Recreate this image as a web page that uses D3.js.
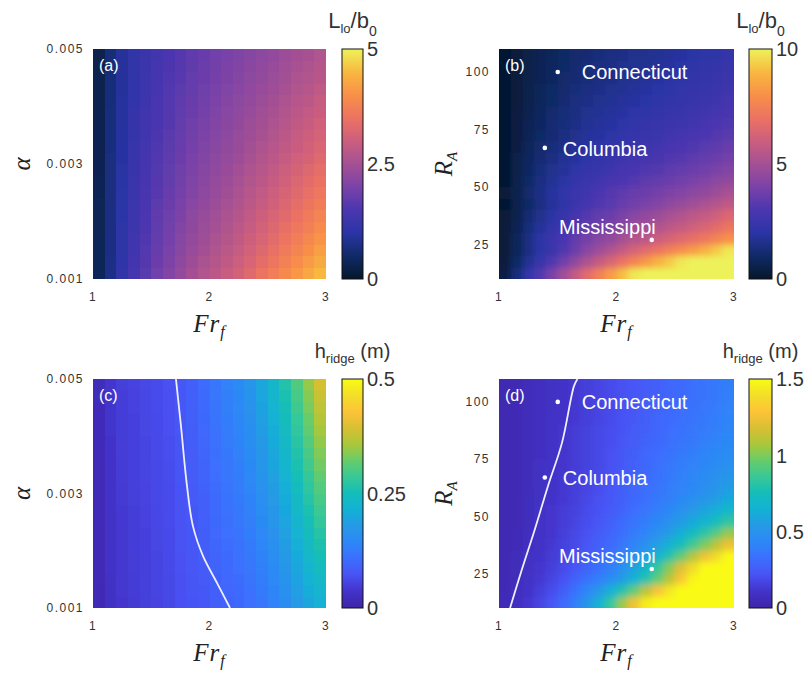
<!DOCTYPE html>
<html><head><meta charset="utf-8">
<script src="https://cdn.jsdelivr.net/npm/d3@7"></script>
<style>body{margin:0;background:#fff}svg{display:block}</style>
</head><body>
<svg id="chart" width="811" height="673"></svg>
<script>
// ---- axes / categories ----
const frValues = [1.05,1.15,1.25,1.35,1.45,1.55,1.65,1.75,1.85,1.95,2.05,2.15,2.25,2.35,2.45,2.55,2.65,2.75,2.85,2.95];
const alphaValues = [0.0049,0.0047,0.0045,0.0043,0.0041,0.0039,0.0037,0.0035,0.0033,0.0031,0.0029,0.0027,0.0025,0.0023,0.0021,0.0019,0.0017,0.0015,0.0013,0.0011];
const raValues = [107.5,102.5,97.5,92.5,87.5,82.5,77.5,72.5,67.5,62.5,57.5,52.5,47.5,42.5,37.5,32.5,27.5,22.5,17.5,12.5];
const frTicks = [1,2,3];
const alphaTicks = [0.001,0.003,0.005];
const alphaTickLabels = ["0.001","0.003","0.005"];
const raTicks = [25,50,75,100];
const ratioTicksA = [0,2.5,5];
const ratioTicksB = [0,5,10];
const ridgeTicksC = [0,0.25,0.5];
const ridgeTicksD = [0,0.5,1,1.5];

// ---- panel (a): L_lo/b_0, rows = alpha (top to bottom), cols = Fr ----
const ratioA = [
[0.30,0.65,0.90,1.10,1.25,1.38,1.50,1.60,1.70,1.80,1.90,1.98,2.06,2.14,2.22,2.30,2.40,2.50,2.55,2.65],
[0.30,0.65,0.91,1.11,1.26,1.40,1.52,1.62,1.72,1.83,1.93,2.01,2.09,2.18,2.26,2.34,2.45,2.55,2.60,2.71],
[0.31,0.66,0.91,1.12,1.27,1.41,1.54,1.64,1.75,1.85,1.95,2.04,2.12,2.21,2.30,2.38,2.49,2.60,2.66,2.76],
[0.31,0.66,0.92,1.13,1.29,1.43,1.56,1.67,1.78,1.89,1.99,2.08,2.16,2.26,2.35,2.44,2.55,2.66,2.73,2.84],
[0.31,0.66,0.93,1.14,1.31,1.45,1.58,1.70,1.81,1.92,2.03,2.12,2.21,2.30,2.40,2.50,2.61,2.72,2.80,2.91],
[0.32,0.67,0.94,1.15,1.32,1.47,1.61,1.73,1.84,1.95,2.06,2.16,2.25,2.35,2.45,2.55,2.67,2.79,2.87,2.98],
[0.32,0.67,0.94,1.17,1.34,1.49,1.63,1.75,1.88,1.99,2.10,2.19,2.29,2.40,2.50,2.61,2.73,2.85,2.94,3.06],
[0.33,0.68,0.95,1.18,1.35,1.52,1.66,1.78,1.91,2.02,2.13,2.23,2.33,2.44,2.55,2.66,2.79,2.92,3.01,3.13],
[0.33,0.68,0.96,1.19,1.37,1.54,1.68,1.81,1.94,2.06,2.17,2.27,2.37,2.49,2.60,2.72,2.85,2.98,3.08,3.21],
[0.34,0.69,0.97,1.21,1.39,1.56,1.71,1.85,1.98,2.10,2.22,2.32,2.42,2.55,2.67,2.79,2.93,3.06,3.16,3.30],
[0.34,0.69,0.98,1.22,1.41,1.59,1.74,1.88,2.02,2.14,2.26,2.37,2.48,2.60,2.73,2.86,3.00,3.14,3.25,3.39],
[0.35,0.70,0.99,1.24,1.43,1.61,1.77,1.92,2.06,2.18,2.31,2.42,2.53,2.66,2.80,2.93,3.08,3.22,3.34,3.48],
[0.35,0.70,1.00,1.25,1.45,1.64,1.80,1.95,2.10,2.23,2.35,2.47,2.58,2.72,2.86,3.00,3.15,3.30,3.43,3.58],
[0.36,0.71,1.01,1.27,1.47,1.67,1.84,1.99,2.15,2.28,2.40,2.52,2.64,2.79,2.94,3.08,3.24,3.40,3.53,3.69],
[0.36,0.71,1.02,1.29,1.50,1.70,1.87,2.03,2.20,2.33,2.46,2.58,2.71,2.86,3.01,3.17,3.33,3.49,3.64,3.80],
[0.37,0.72,1.04,1.30,1.52,1.73,1.91,2.08,2.24,2.38,2.51,2.64,2.77,2.93,3.09,3.25,3.42,3.59,3.74,3.91],
[0.38,0.73,1.05,1.33,1.55,1.77,1.95,2.13,2.30,2.44,2.58,2.71,2.84,3.01,3.18,3.35,3.53,3.70,3.86,4.04],
[0.38,0.73,1.06,1.35,1.58,1.81,1.99,2.17,2.36,2.50,2.64,2.78,2.91,3.09,3.27,3.45,3.63,3.81,3.99,4.17],
[0.39,0.74,1.08,1.37,1.61,1.85,2.04,2.23,2.42,2.57,2.71,2.85,3.00,3.18,3.37,3.56,3.75,3.94,4.13,4.32],
[0.40,0.75,1.10,1.40,1.65,1.90,2.10,2.30,2.50,2.65,2.80,2.95,3.10,3.30,3.50,3.70,3.90,4.10,4.30,4.50]
];

// ---- panel (b): L_lo/b_0, rows = R_A (top to bottom), cols = Fr ----
const ratioB = [
[0.1,0.3,0.5,0.7,0.8,1.0,1.1,1.2,1.3,1.4,1.5,1.6,1.6,1.7,1.8,1.9,2.0,2.1,2.1,2.3],
[0.1,0.3,0.5,0.7,0.9,1.0,1.2,1.3,1.4,1.5,1.6,1.7,1.7,1.8,1.9,2.0,2.1,2.2,2.3,2.4],
[0.1,0.3,0.5,0.7,0.9,1.1,1.2,1.3,1.4,1.5,1.6,1.7,1.8,1.9,2.0,2.1,2.2,2.3,2.4,2.5],
[0.1,0.3,0.6,0.8,1.0,1.1,1.3,1.4,1.5,1.6,1.7,1.8,1.9,2.0,2.1,2.2,2.3,2.4,2.5,2.6],
[0.1,0.3,0.6,0.8,1.0,1.2,1.4,1.5,1.6,1.7,1.8,1.9,2.0,2.1,2.2,2.3,2.4,2.5,2.6,2.8],
[0.1,0.4,0.6,0.9,1.1,1.3,1.4,1.6,1.7,1.8,1.9,2.1,2.1,2.2,2.4,2.4,2.6,2.7,2.8,2.9],
[0.1,0.4,0.7,0.9,1.2,1.3,1.5,1.7,1.8,1.9,2.1,2.2,2.3,2.4,2.5,2.6,2.7,2.8,3.0,3.1],
[0.1,0.4,0.7,1.0,1.2,1.4,1.6,1.8,1.9,2.1,2.2,2.3,2.4,2.5,2.7,2.8,2.9,3.0,3.2,3.3],
[0.1,0.4,0.8,1.1,1.3,1.5,1.8,1.9,2.1,2.2,2.4,2.5,2.6,2.7,2.9,3.0,3.1,3.3,3.4,3.6],
[0.1,0.5,0.9,1.2,1.4,1.7,1.9,2.1,2.2,2.4,2.6,2.7,2.8,2.9,3.1,3.2,3.4,3.5,3.7,3.9],
[0.1,0.5,0.9,1.3,1.6,1.8,2.1,2.3,2.4,2.6,2.8,2.9,3.1,3.2,3.4,3.5,3.7,3.8,4.0,4.2],
[0.1,0.6,1.0,1.4,1.7,2.0,2.3,2.5,2.7,2.9,3.0,3.2,3.4,3.5,3.7,3.8,4.0,4.2,4.4,4.6],
[0.2,0.6,1.1,1.5,1.9,2.2,2.5,2.7,3.0,3.2,3.4,3.6,3.7,3.9,4.1,4.2,4.4,4.6,4.8,5.1],
[0.1,0.6,1.0,1.4,1.8,2.1,2.5,2.8,3.1,3.3,3.6,3.8,4.0,4.2,4.5,4.7,4.9,5.2,5.4,5.7],
[0.2,0.6,1.2,1.6,2.0,2.4,2.8,3.2,3.5,3.7,4.0,4.3,4.6,4.8,5.1,5.3,5.6,5.8,6.1,6.5],
[0.2,0.7,1.3,1.8,2.2,2.7,3.1,3.5,3.8,4.1,4.4,4.8,5.0,5.3,5.6,5.8,6.1,6.4,6.7,7.1],
[0.2,0.8,1.4,2.0,2.5,3.0,3.5,3.9,4.3,4.6,5.0,5.4,5.6,6.0,6.3,6.6,6.9,7.2,7.6,8.0],
[0.2,0.8,1.4,2.0,2.5,3.1,3.7,4.3,4.8,5.3,5.8,6.3,6.7,7.1,7.5,7.9,8.3,8.8,9.3,9.8],
[0.3,1.0,1.7,2.4,3.1,3.8,4.5,5.2,5.8,6.4,7.0,7.6,8.2,8.8,9.3,9.8,10.3,10.9,11.4,12.0],
[0.4,1.3,2.2,3.1,4.0,4.9,5.8,6.7,7.5,8.3,9.1,9.8,10.5,11.2,11.9,12.6,13.2,13.9,14.6,15.3]
];

// ---- panel (c): h_ridge (m), one array per Fr column, entries = alpha (top to bottom) ----
const ridgeC = [
[.020,.020,.019,.019,.019,.019,.018,.018,.018,.018,.017,.017,.017,.017,.016,.016,.016,.016,.015,.015],
[.040,.039,.039,.038,.038,.037,.037,.036,.036,.035,.035,.034,.034,.033,.033,.032,.032,.031,.031,.030],
[.050,.049,.049,.048,.048,.047,.047,.046,.046,.045,.045,.044,.044,.043,.043,.042,.042,.041,.041,.040],
[.055,.054,.054,.053,.053,.052,.052,.051,.051,.050,.050,.049,.049,.048,.048,.047,.047,.046,.046,.045],
[.060,.059,.059,.058,.058,.057,.057,.056,.056,.055,.055,.054,.054,.053,.053,.052,.052,.051,.051,.050],
[.065,.064,.064,.063,.063,.062,.062,.061,.061,.060,.060,.059,.059,.058,.058,.057,.057,.056,.056,.055],
[.070,.069,.069,.068,.068,.067,.067,.066,.066,.065,.065,.064,.064,.063,.063,.062,.062,.061,.061,.060],
[.078,.077,.077,.076,.076,.075,.075,.074,.074,.073,.073,.072,.072,.071,.071,.070,.070,.069,.069,.068],
[.090,.089,.088,.087,.086,.085,.084,.083,.083,.082,.081,.080,.079,.078,.077,.076,.076,.075,.074,.073],
[.104,.103,.101,.100,.098,.097,.096,.094,.093,.092,.090,.089,.088,.086,.085,.084,.082,.081,.080,.079],
[.120,.118,.117,.115,.113,.112,.110,.108,.107,.105,.103,.101,.100,.098,.096,.095,.093,.091,.090,.088],
[.135,.133,.131,.129,.127,.125,.122,.120,.118,.116,.114,.112,.110,.108,.106,.103,.101,.099,.097,.095],
[.150,.147,.145,.142,.140,.137,.134,.132,.129,.126,.124,.121,.118,.116,.113,.111,.108,.105,.103,.100],
[.170,.167,.163,.160,.157,.154,.150,.147,.144,.141,.137,.134,.131,.128,.124,.121,.118,.115,.111,.108],
[.200,.196,.192,.187,.183,.179,.175,.171,.166,.162,.158,.154,.149,.145,.141,.137,.133,.128,.124,.120],
[.230,.225,.220,.215,.210,.205,.200,.195,.190,.185,.180,.175,.170,.165,.160,.155,.150,.145,.140,.135],
[.265,.259,.253,.248,.242,.236,.230,.225,.219,.213,.207,.201,.196,.190,.184,.178,.172,.167,.161,.155],
[.305,.298,.292,.285,.279,.272,.266,.259,.252,.246,.239,.233,.226,.220,.213,.206,.200,.193,.187,.180],
[.345,.337,.330,.322,.315,.307,.299,.292,.284,.276,.269,.261,.253,.246,.238,.231,.223,.215,.208,.200],
[.390,.381,.372,.362,.353,.344,.335,.326,.316,.307,.298,.289,.280,.270,.261,.252,.243,.233,.224,.215]
];

// ---- panel (d): h_ridge (m), rows = R_A (top to bottom), cols = Fr ----
const ridgeD = [
[.03,.045,.06,.08,.09,.11,.13,.15,.17,.19,.21,.23,.25,.27,.29,.31,.33,.35,.37,.39],
[.03,.045,.06,.08,.09,.11,.13,.15,.17,.19,.21,.23,.25,.27,.29,.31,.33,.35,.37,.40],
[.03,.045,.06,.08,.09,.11,.13,.15,.17,.19,.21,.23,.26,.28,.30,.32,.34,.36,.38,.41],
[.03,.045,.06,.08,.10,.11,.13,.15,.17,.19,.22,.24,.26,.29,.31,.33,.35,.37,.39,.42],
[.03,.045,.06,.08,.10,.12,.14,.16,.18,.20,.22,.25,.27,.29,.32,.34,.36,.38,.40,.43],
[.03,.045,.06,.08,.10,.12,.14,.16,.18,.20,.23,.25,.28,.30,.33,.35,.37,.40,.42,.44],
[.03,.045,.06,.08,.10,.12,.14,.16,.18,.21,.24,.26,.29,.32,.34,.37,.39,.42,.44,.46],
[.03,.045,.06,.09,.10,.12,.14,.16,.18,.21,.24,.27,.30,.33,.36,.39,.41,.44,.46,.48],
[.03,.045,.06,.09,.11,.13,.15,.17,.19,.22,.25,.28,.31,.34,.37,.40,.43,.46,.49,.52],
[.03,.045,.06,.09,.11,.13,.15,.17,.20,.23,.26,.29,.32,.35,.38,.41,.44,.47,.51,.55],
[.03,.045,.07,.09,.11,.13,.15,.18,.21,.24,.27,.30,.33,.37,.40,.44,.48,.52,.56,.61],
[.03,.045,.07,.10,.12,.14,.16,.19,.22,.25,.28,.32,.36,.40,.44,.49,.54,.59,.64,.70],
[.03,.045,.07,.10,.12,.14,.17,.20,.23,.27,.31,.35,.39,.44,.49,.55,.61,.68,.75,.83],
[.035,.055,.08,.10,.12,.15,.18,.21,.25,.29,.33,.38,.43,.49,.56,.64,.73,.83,.93,1.04],
[.035,.055,.08,.10,.13,.16,.19,.23,.27,.31,.36,.42,.49,.57,.66,.76,.88,1.00,1.12,1.24],
[.04,.06,.09,.11,.14,.17,.21,.25,.30,.35,.41,.48,.57,.68,.81,.95,1.10,1.25,1.38,1.50],
[.04,.06,.09,.12,.15,.19,.23,.28,.34,.40,.48,.58,.70,.86,1.02,1.20,1.38,1.52,1.65,1.78],
[.04,.065,.10,.13,.17,.22,.28,.34,.40,.47,.56,.66,.80,.96,1.12,1.30,1.48,1.62,1.76,1.90],
[.045,.075,.11,.15,.20,.26,.34,.43,.53,.65,.80,.95,1.12,1.28,1.43,1.58,1.72,1.85,1.98,2.10],
[.05,.08,.12,.17,.23,.31,.40,.52,.66,.85,1.05,1.25,1.45,1.60,1.75,1.90,2.00,2.10,2.20,2.30]
];

// ---- white curves and river points ----
const curveC = [[1.712,0.0050],[1.755,0.00418],[1.807,0.00313],[1.858,0.00243],[1.944,0.00191],[2.064,0.00144],[2.176,0.0010]];
const curveD = [[1.668,110],[1.638,106.9],[1.536,82.1],[1.417,63.3],[1.306,44.5],[1.196,27.0],[1.094,10]];
const rivers = ["Connecticut","Columbia","Mississippi"];
const riverFr = [1.50,1.39,2.30];
const riverRA = [100,67,27];

// ---- colour maps ----
const thermalColors = ["#05172b","#102a66","#2a34a6","#4b36b0","#7a42a8","#a45094","#cc5e7e","#ec7262","#f89048","#f8b840","#eef25a"];
const parulaColors = ["#3e26a8","#4332c8","#4852f4","#3c6efe","#2d87f7","#2699e6","#12b1d6","#14bdba","#37c897","#66cc6b","#abc739","#d9bf33","#fec338","#f2de29","#f9fb15"];

const svg = d3.select("#chart");
const defs = svg.append("defs");
const sans = "'Liberation Sans', Arial, Helvetica, sans-serif";
const serif = "'Liberation Serif', 'Times New Roman', serif";

function panel(cfg){
  const x = d3.scaleLinear().domain([1,3]).range([cfg.left, cfg.left+cfg.width]);
  const y = d3.scaleLinear().domain(cfg.yDomain).range([cfg.top+cfg.height, cfg.top]);
  const color = d3.scaleSequential(d3.piecewise(d3.interpolateRgb, cfg.colors)).domain(cfg.cDomain).clamp(true);
  const dx = frValues[1]-frValues[0];
  const dy = Math.abs(cfg.yVals[1]-cfg.yVals[0]);
  const nC = frValues.length, nR = cfg.yVals.length, pad = 12;
  const cells = [];
  cfg.yVals.forEach((yv,j)=>frValues.forEach((fv,i)=>{
    const v = cfg.colMajor ? cfg.grid[i][j] : cfg.grid[j][i];
    cells.push({fv,yv,v,i,j});
  }));
  defs.append("clipPath").attr("id","clip"+cfg.id).append("rect")
    .attr("x",cfg.left).attr("y",cfg.top).attr("width",cfg.width).attr("height",cfg.height);
  defs.append("filter").attr("id","blur"+cfg.id).attr("filterUnits","userSpaceOnUse")
    .attr("x",cfg.left-pad).attr("y",cfg.top-pad).attr("width",cfg.width+2*pad).attr("height",cfg.height+2*pad)
    .append("feGaussianBlur").attr("stdDeviation",cfg.blur);
  const outer = svg.append("g").attr("clip-path",`url(#clip${cfg.id})`);
  const g = outer.append("g").attr("filter",`url(#blur${cfg.id})`);
  g.selectAll("rect").data(cells).join("rect")
    .attr("x", d=>x(d.fv-dx/2)-(d.i===0?pad:0))
    .attr("width", d=>x(d.fv+dx/2)-x(d.fv-dx/2)+0.6+(d.i===0?pad:0)+(d.i===nC-1?pad:0))
    .attr("y", d=>y(d.yv+dy/2)-(d.j===0?pad:0))
    .attr("height", d=>y(d.yv-dy/2)-y(d.yv+dy/2)+0.6+(d.j===0?pad:0)+(d.j===nR-1?pad:0))
    .attr("fill", d=>color(d.v)).attr("shape-rendering","crispEdges");

  // ticks
  svg.append("g").selectAll("text").data(frTicks).join("text")
    .attr("x", d=>x(d)).attr("y", cfg.top+cfg.height+22)
    .attr("text-anchor","middle").attr("font-family",sans).attr("font-size",12)
    .attr("letter-spacing",1.2).attr("fill","#333").text(d=>d);
  svg.append("g").selectAll("text").data(cfg.yTicks).join("text")
    .attr("x", cfg.left-9).attr("y", d=>y(d)).attr("dy","0.36em")
    .attr("text-anchor","end").attr("font-family",sans).attr("font-size",12)
    .attr("letter-spacing",1.5).attr("fill","#333").text((d,i)=>cfg.yTickLabels[i]);

  // x label Fr_f
  const xl = svg.append("text").attr("x", cfg.left+cfg.width/2).attr("y", cfg.top+cfg.height+53)
    .attr("text-anchor","middle").attr("font-family",serif).attr("font-style","italic")
    .attr("font-size",25).attr("fill","#222").attr("letter-spacing",1);
  xl.append("tspan").text("Fr");
  xl.append("tspan").attr("font-size",16).attr("dy",5).text("f");

  // y label
  const yl = svg.append("text").attr("transform",`translate(${cfg.yLabelX},${cfg.top+cfg.height/2}) rotate(-90)`)
    .attr("text-anchor","middle").attr("dy","0.35em").attr("font-family",serif).attr("font-style","italic")
    .attr("font-size",25).attr("fill","#222");
  if(cfg.yLabel==="alpha"){ yl.text("α"); }
  else { yl.append("tspan").text("R"); yl.append("tspan").attr("font-size",15).attr("dy",5).text("A"); }

  // colorbar
  const gid = "grad"+cfg.id;
  const grad = defs.append("linearGradient").attr("id",gid).attr("x1",0).attr("y1",1).attr("x2",0).attr("y2",0);
  d3.range(0,41).forEach(k=>{
    const t = k/40;
    grad.append("stop").attr("offset",t).attr("stop-color",color(cfg.cDomain[0]+t*(cfg.cDomain[1]-cfg.cDomain[0])));
  });
  svg.append("rect").attr("x",cfg.cbLeft).attr("y",cfg.top).attr("width",cfg.cbWidth).attr("height",cfg.height)
    .attr("fill",`url(#${gid})`).attr("stroke","#111").attr("stroke-width",1);
  const cy = d3.scaleLinear().domain(cfg.cDomain).range([cfg.top+cfg.height, cfg.top]);
  svg.append("g").selectAll("text").data(cfg.cTicks).join("text")
    .attr("x", cfg.cbLeft+cfg.cbWidth+4).attr("y", d=>cy(d)).attr("dy","0.36em")
    .attr("font-family",sans).attr("font-size",20).attr("fill","#333").text(d=>d);

  // colorbar title
  const ct = svg.append("text").attr("x", cfg.cbLeft+cfg.cbWidth/2).attr("y", cfg.top-21)
    .attr("text-anchor","middle").attr("font-family",sans).attr("fill","#333");
  if(cfg.cTitle==="L"){
    ct.append("tspan").attr("font-size",22).text("L");
    ct.append("tspan").attr("font-size",13).attr("dy",5).text("lo");
    ct.append("tspan").attr("font-size",22).attr("dy",-5).text("/b");
    ct.append("tspan").attr("font-size",14).attr("dy",8).text("0");
  } else {
    ct.append("tspan").attr("font-size",20).text("h");
    ct.append("tspan").attr("font-size",13).attr("dy",5).text("ridge");
    ct.append("tspan").attr("font-size",20).attr("dy",-5).text(" (m)");
  }

  // curve
  if(cfg.curve){
    outer.append("path").datum(cfg.curve)
      .attr("d", d3.line().x(d=>x(d[0])).y(d=>y(d[1])).curve(d3.curveCatmullRom))
      .attr("fill","none").attr("stroke","#eef0ff").attr("stroke-width",1.8);
  }

  // rivers
  if(cfg.rivers){
    const rg = svg.append("g");
    rivers.forEach((name,k)=>{
      const px = x(riverFr[k]), py = y(riverRA[k]);
      rg.append("circle").attr("cx",px).attr("cy",py).attr("r",2.3).attr("fill","#fff");
      const t = rg.append("text").attr("font-family",sans).attr("font-size",20).attr("fill","#fff").text(name);
      if(k===0) t.attr("x",px+24).attr("y",py+7);
      else if(k===1) t.attr("x",px+18).attr("y",py+8);
      else t.attr("x",px+4).attr("y",py-6).attr("text-anchor","end");
    });
  }

  // panel letter
  svg.append("text").attr("x",cfg.left+6).attr("y",cfg.top+22)
    .attr("font-family",sans).attr("font-size",16).attr("fill","#fff").text(cfg.letter);
}

panel({id:"a",left:93,top:49,width:233,height:230,yDomain:[0.001,0.005],yVals:alphaValues,grid:ratioA,colMajor:false,
  colors:thermalColors,cDomain:[0,5],cTicks:ratioTicksA,yTicks:alphaTicks,yTickLabels:alphaTickLabels,
  yLabel:"alpha",yLabelX:21,cbLeft:342,cbWidth:21,cTitle:"L",letter:"(a)",blur:0.6});
panel({id:"b",left:499,top:49,width:235,height:230,yDomain:[10,110],yVals:raValues,grid:ratioB,colMajor:false,
  colors:thermalColors,cDomain:[0,10],cTicks:ratioTicksB,yTicks:raTicks,yTickLabels:raTicks.map(String),
  yLabel:"R",yLabelX:443,cbLeft:749,cbWidth:23,cTitle:"L",letter:"(b)",rivers:true,blur:3});
panel({id:"c",left:93,top:379,width:233,height:229,yDomain:[0.001,0.005],yVals:alphaValues,grid:ridgeC,colMajor:true,
  colors:parulaColors,cDomain:[0,0.5],cTicks:ridgeTicksC,yTicks:alphaTicks,yTickLabels:alphaTickLabels,
  yLabel:"alpha",yLabelX:21,cbLeft:342,cbWidth:21,cTitle:"h",letter:"(c)",curve:curveC,blur:0.6});
panel({id:"d",left:499,top:379,width:235,height:229,yDomain:[10,110],yVals:raValues,grid:ridgeD,colMajor:false,
  colors:parulaColors,cDomain:[0,1.5],cTicks:ridgeTicksD,yTicks:raTicks,yTickLabels:raTicks.map(String),
  yLabel:"R",yLabelX:443,cbLeft:749,cbWidth:23,cTitle:"h",letter:"(d)",curve:curveD,rivers:true,blur:3.5});
</script>
</body></html>
